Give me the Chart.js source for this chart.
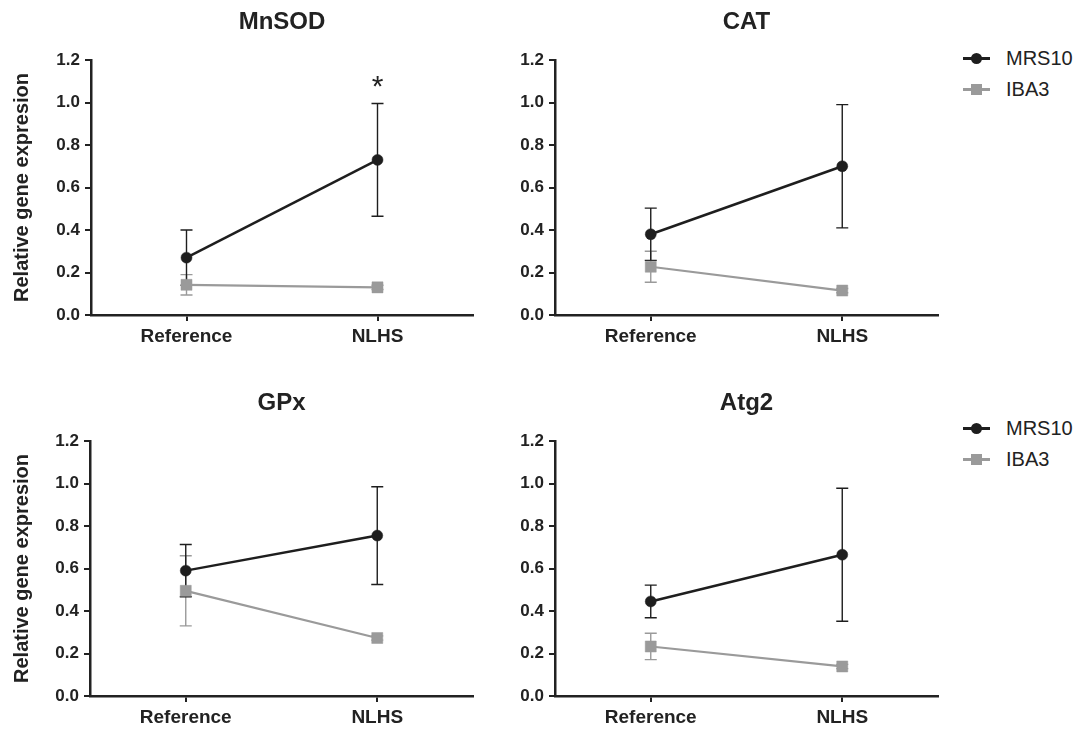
<!DOCTYPE html>
<html>
<head>
<meta charset="utf-8">
<script src="https://cdn.jsdelivr.net/npm/chart.js@4.4.0/dist/chart.umd.min.js"></script>
<style>
  body { margin: 0; background: #fff; width: 1077px; height: 729px; position: relative; overflow: hidden; font-family: "Liberation Sans", Arial, sans-serif; }
  .panel { position: absolute; }
  .legend { position: absolute; left: 963px; width: 114px; color: #222; font-size: 20px; }
  .item { position: absolute; left: 0; width: 114px; height: 20px; }
  .item .ln { position: absolute; left: 0; top: 9px; width: 27px; height: 2.5px; }
  .item .mk { position: absolute; left: 8px; top: 4.5px; width: 11px; height: 11px; }
  .item span { position: absolute; left: 43px; top: 0; line-height: 20px; white-space: nowrap; }
</style>
</head>
<body>
<script>
// data
const categories = ['Reference', 'NLHS'];
const genes = ['MnSOD', 'CAT', 'GPx', 'Atg2'];
const seriesNames = ['MRS10', 'IBA3'];
const mrs10Mean = [[0.27, 0.73], [0.38, 0.70], [0.59, 0.755], [0.445, 0.665]];
const mrs10Err = [[0.13, 0.265], [0.123, 0.29], [0.123, 0.23], [0.077, 0.313]];
const iba3Mean = [[0.142, 0.13], [0.227, 0.115], [0.495, 0.273], [0.233, 0.139]];
const iba3Err = [[0.048, 0.01], [0.073, 0.01], [0.165, 0.01], [0.062, 0.01]];
const sigMarks = [['', '*'], ['', ''], ['', ''], ['', '']];
const yTicks = [0, 0.2, 0.4, 0.6, 0.8, 1.0, 1.2];
const yTitle = 'Relative gene expresion';

const colors = ['#1e1e1e', '#9a9a9a'];
const pointStyles = ['circle', 'rect'];
const textColor = '#222';

// draws the SEM whiskers behind the markers
const errorBars = {
  id: 'errorBars',
  beforeDatasetsDraw(chart) {
    const ctx = chart.ctx;
    const yScale = chart.scales.y;
    for (let i = chart.data.datasets.length - 1; i >= 0; i--) {
      const ds = chart.data.datasets[i];
      const meta = chart.getDatasetMeta(i);
      ctx.save();
      ctx.strokeStyle = ds.borderColor;
      ctx.lineWidth = 1.4;
      meta.data.forEach((pt, j) => {
        const v = ds.data[j], e = ds.errors[j];
        const top = yScale.getPixelForValue(v + e);
        const bot = yScale.getPixelForValue(v - e);
        ctx.beginPath();
        ctx.moveTo(pt.x, top); ctx.lineTo(pt.x, bot);
        ctx.moveTo(pt.x - 6, top); ctx.lineTo(pt.x + 6, top);
        ctx.moveTo(pt.x - 6, bot); ctx.lineTo(pt.x + 6, bot);
        ctx.stroke();
      });
      ctx.restore();
    }
  }
};

// significance asterisks above the top whisker
const sigPlugin = {
  id: 'sigPlugin',
  afterDatasetsDraw(chart, args, opts) {
    const ctx = chart.ctx;
    const yScale = chart.scales.y;
    const ds = chart.data.datasets[0];
    const meta = chart.getDatasetMeta(0);
    ctx.save();
    ctx.fillStyle = textColor;
    ctx.font = '30px "Liberation Sans", Arial, sans-serif';
    ctx.textAlign = 'center';
    ctx.textBaseline = 'alphabetic';
    (opts.marks || []).forEach((m, j) => {
      if (!m) return;
      const top = yScale.getPixelForValue(ds.data[j] + ds.errors[j]);
      ctx.fillText(m, meta.data[j].x, top - 8);
    });
    ctx.restore();
  }
};

function makePanel(k, left, top, width, yWidth, padRight, showYTitle) {
  const wrap = document.createElement('div');
  wrap.className = 'panel';
  wrap.style.left = left + 'px';
  wrap.style.top = top + 'px';
  const canvas = document.createElement('canvas');
  canvas.width = width;
  canvas.height = 365;
  wrap.appendChild(canvas);
  document.body.appendChild(wrap);

  new Chart(canvas.getContext('2d'), {
    type: 'line',
    data: {
      labels: categories,
      datasets: [
        { label: seriesNames[0], data: mrs10Mean[k], errors: mrs10Err[k] },
        { label: seriesNames[1], data: iba3Mean[k], errors: iba3Err[k] }
      ].map((ds, i) => Object.assign(ds, {
        borderColor: colors[i],
        backgroundColor: colors[i],
        pointBackgroundColor: colors[i],
        pointBorderColor: colors[i],
        pointStyle: pointStyles[i],
        pointRadius: i === 0 ? 5.5 : 7.8,
        pointBorderWidth: 0.5,
        borderWidth: i === 0 ? 2.5 : 2.2,
        tension: 0,
        fill: false
      }))
    },
    options: {
      responsive: false,
      animation: false,
      layout: { autoPadding: false, padding: { left: 0, right: padRight, top: 0, bottom: 5 } },
      plugins: {
        legend: { display: false },
        tooltip: { enabled: false },
        title: {
          display: true,
          fullSize: false,
          text: genes[k],
          color: textColor,
          font: { family: '"Liberation Sans", Arial, sans-serif', size: 24, weight: 'bold', lineHeight: 1.2 },
          padding: { top: 8, bottom: 23.2 }
        },
        sigPlugin: { marks: sigMarks[k] }
      },
      scales: {
        x: {
          type: 'category',
          offset: true,
          afterFit: s => { s.height = 45; },
          grid: { display: true, drawOnChartArea: false, drawTicks: true, offset: false, tickLength: 6, color: textColor, lineWidth: 2 },
          border: { display: true, color: textColor, width: 2.5 },
          ticks: {
            color: textColor,
            padding: 4,
            font: { family: '"Liberation Sans", Arial, sans-serif', size: 19, weight: 'bold' }
          }
        },
        y: {
          min: yTicks[0],
          max: yTicks[yTicks.length - 1],
          afterBuildTicks: s => { s.ticks = yTicks.map(v => ({ value: v })); },
          afterFit: s => { s.width = yWidth; },
          grid: { display: true, drawOnChartArea: false, drawTicks: true, tickLength: 6, color: textColor, lineWidth: 2 },
          border: { display: true, color: textColor, width: 2.5 },
          ticks: {
            color: textColor,
            padding: 5,
            font: { family: '"Liberation Sans", Arial, sans-serif', size: 17, weight: 'bold' },
            callback: v => Number(v).toFixed(1)
          },
          title: {
            display: showYTitle,
            text: yTitle,
            color: textColor,
            padding: { top: 10, bottom: 0 },
            font: { family: '"Liberation Sans", Arial, sans-serif', size: 20, weight: 'bold', lineHeight: 1.2 }
          }
        }
      }
    },
    plugins: [errorBars, sigPlugin]
  });
}

function makeLegend(topY) {
  const lg = document.createElement('div');
  lg.className = 'legend';
  lg.style.top = topY + 'px';
  seriesNames.forEach((name, i) => {
    const it = document.createElement('div');
    it.className = 'item';
    it.style.top = (i * 31) + 'px';
    const ln = document.createElement('div');
    ln.className = 'ln';
    ln.style.background = colors[i];
    const mk = document.createElement('div');
    mk.className = 'mk';
    mk.style.background = colors[i];
    if (pointStyles[i] === 'circle') mk.style.borderRadius = '50%';
    const sp = document.createElement('span');
    sp.textContent = name;
    it.appendChild(ln); it.appendChild(mk); it.appendChild(sp);
    lg.appendChild(it);
  });
  document.body.appendChild(lg);
}

makePanel(0, 0, 0, 480, 91, 7, true);
makePanel(1, 480, 0, 470, 75, 12, false);
makePanel(2, 0, 381, 480, 90, 7, true);
makePanel(3, 480, 381, 470, 75, 12, false);
makeLegend(48);
makeLegend(418);
</script>
</body>
</html>
